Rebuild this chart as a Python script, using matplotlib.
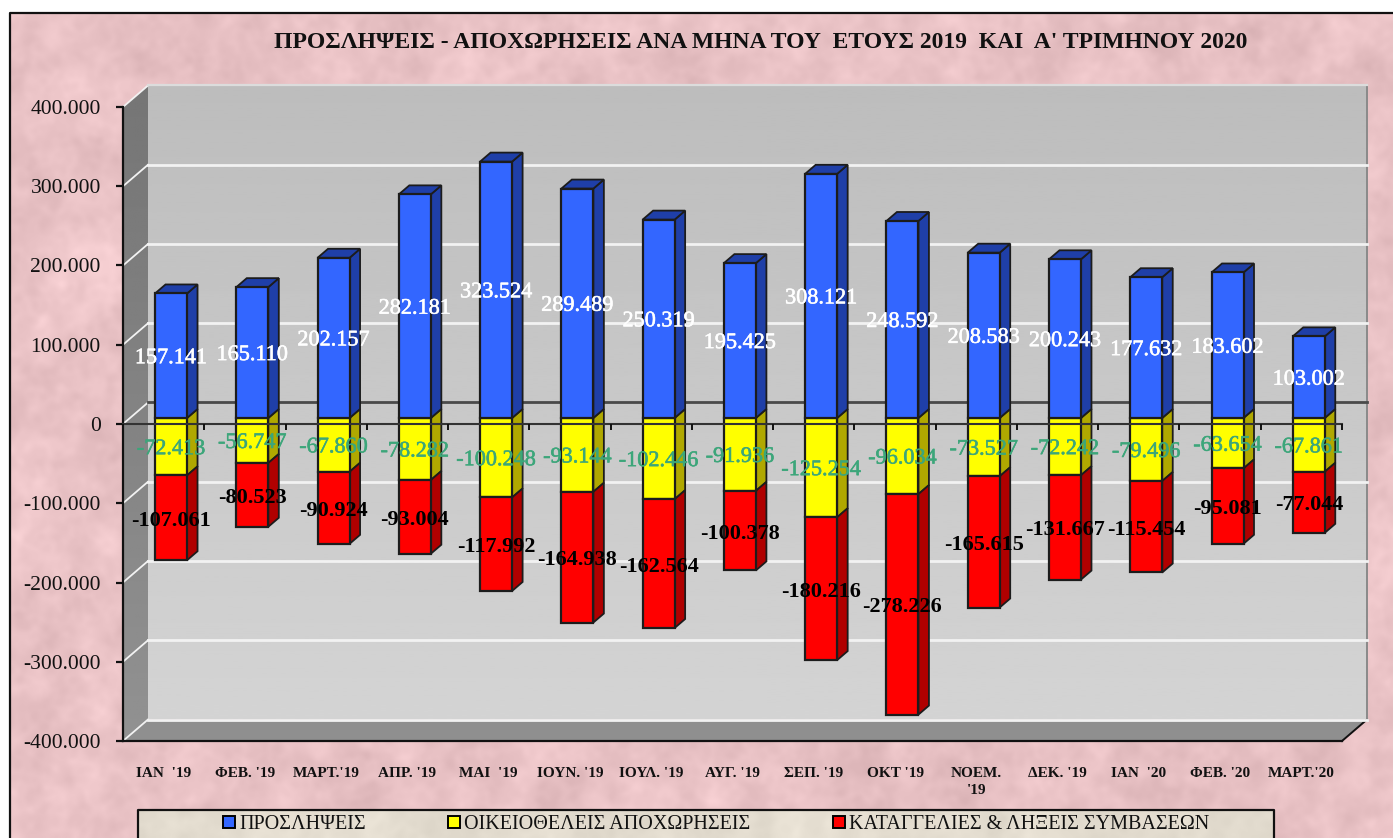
import numpy as np
import matplotlib
matplotlib.use("Agg")
import matplotlib.pyplot as plt
import matplotlib.patheffects as pe
from matplotlib.patches import Polygon, Patch

months = ["ΙΑΝ  '19", "ΦΕΒ. '19", "ΜΑΡΤ.'19", "ΑΠΡ. '19", "ΜΑΙ  '19", "ΙΟΥΝ. '19", "ΙΟΥΛ. '19", "ΑΥΓ. '19",
          "ΣΕΠ. '19", "ΟΚΤ '19", "ΝΟΕΜ.\n'19", "ΔΕΚ. '19", "ΙΑΝ  '20", "ΦΕΒ. '20", "ΜΑΡΤ.'20"]
hires = [157141, 165110, 202157, 282181, 323524, 289489, 250319, 195425, 308121, 248592, 208583, 200243, 177632, 183602, 103002]
quits = [-72413, -56747, -67860, -78282, -100248, -93144, -102446, -91936, -125254, -96034, -73527, -72242, -79496, -63654, -67861]
layoffs = [-107061, -80523, -90924, -93004, -117992, -164938, -162564, -100378, -180216, -278226, -165615, -131667, -115454, -95081, -77044]
yticks = [400000, 300000, 200000, 100000, 0, -100000, -200000, -300000, -400000]
series_names = ["ΠΡΟΣΛΗΨΕΙΣ", "ΟΙΚΕΙΟΘΕΛΕΙΣ ΑΠΟΧΩΡΗΣΕΙΣ", "ΚΑΤΑΓΓΕΛΙΕΣ & ΛΗΞΕΙΣ ΣΥΜΒΑΣΕΩΝ"]
title = "ΠΡΟΣΛΗΨΕΙΣ - ΑΠΟΧΩΡΗΣΕΙΣ ΑΝΑ ΜΗΝΑ ΤΟΥ  ΕΤΟΥΣ 2019  ΚΑΙ  Α' ΤΡΙΜΗΝΟΥ 2020"

W, H = 1393, 838
SERIF = "Liberation Serif"
plt.rcParams["font.family"] = [SERIF, "DejaVu Serif"]


def fmt(v):
    return f"{v:,}".replace(",", ".")


def marble(h, w, base, amp, seed):
    """Decorative background texture only (no chart data)."""
    rng = np.random.default_rng(seed)
    out = np.zeros((h, w))
    fy = np.fft.fftfreq(h)[:, None]
    fx = np.fft.rfftfreq(w)[None, :]
    for sigma, weight in ((22, 0.6), (8, 0.8), (3, 0.45)):
        noise = rng.standard_normal((h, w))
        f = np.fft.rfft2(noise) * np.exp(-2 * (np.pi * sigma) ** 2 * (fx ** 2 + fy ** 2))
        layer = np.fft.irfft2(f, s=(h, w))
        out += weight * layer / layer.std()
    out /= out.std()
    img = np.ones((h, w, 3)) * np.array(base)[None, None, :]
    img += (amp * out)[..., None]
    return np.clip(img, 0, 255).astype(np.uint8)


fig = plt.figure(figsize=(W / 100, H / 100), dpi=100, facecolor="white")

# page background in pixel coordinates
bg = fig.add_axes([0, 0, 1, 1], zorder=0)
bg.axis("off")
bg.imshow(marble(H - 13, W - 10, (233, 194, 197), 4.5, 3), extent=(10, W, H, 13), aspect="auto", zorder=1)
bg.set_xlim(0, W)
bg.set_ylim(H, 0)
bg.plot([10, 10, W], [H, 13, 13], color="#111111", lw=1.6, zorder=2)

# plotting axes: front plane
L, R, T, B = 123, 1342, 107, 741
ax = fig.add_axes([L / W, 1 - B / H, (R - L) / W, (B - T) / H], zorder=2)
ax.patch.set_alpha(0)
x0, x1 = -0.5, 14.5
y0, y1 = -400000, 400000
px_x = (x1 - x0) / (R - L)
px_y = (y1 - y0) / (B - T)
DX, DY = 25 * px_x, 21.5 * px_y       # wall depth
BX, BY = 7.4 * px_x, 6.0 * px_y       # bar plane offset
BDX, BDY = 10.5 * px_x, 9.0 * px_y    # bar depth
BW = 32 * px_x
LABEL_SHIFT = 3.0 * px_y

# back wall with vertical gradient
grad = np.linspace(0, 1, 256)[:, None]
ax.imshow(0.74 + grad * 0.09, cmap="gray", vmin=0, vmax=1, aspect="auto",
          extent=(x0 + DX, x1 + DX, y0 + DY, y1 + DY), origin="upper", zorder=1, clip_on=False)
side = ax.imshow(0.46 + grad * 0.11, cmap="gray", vmin=0, vmax=1, aspect="auto",
                 extent=(x0, x0 + DX, y0, y1 + DY), origin="upper", zorder=1)
side_poly = Polygon([(x0, y0), (x0 + DX, y0 + DY), (x0 + DX, y1 + DY), (x0, y1)], transform=ax.transData)
side.set_clip_box(fig.bbox)
side.set_clip_path(side_poly)
ax.add_patch(Polygon([(x0, y0), (x1, y0), (x1 + DX, y0 + DY), (x0 + DX, y0 + DY)], closed=True,
                     facecolor="#8f8f8f", edgecolor="none", zorder=1.1, clip_on=False))
ax.plot([x1, x1 + DX], [y0, y0 + DY], color="#111111", lw=1.4, zorder=1.3, clip_on=False)
ax.plot([x1 + DX, x1 + DX], [y0 + DY, y1 + DY], color="#8a8a8a", lw=1.4, zorder=1.3, clip_on=False)

# gridlines
for v in yticks:
    ax.plot([x0, x0 + DX], [v, v + DY], color="#f2f2f2", lw=1.3, zorder=1.5, clip_on=False)
    if v == y1:
        ax.plot([x0 + DX, x1 + DX], [v + DY, v + DY], color="#dcdcdc", lw=1.6, zorder=1.5, clip_on=False)
    elif v != 0:
        ax.plot([x0 + DX, x1 + DX], [v + DY, v + DY], color="#f2f2f2", lw=2.0, zorder=1.5, clip_on=False)
ax.plot([x0 + DX, x1 + DX], [DY, DY], color="#4a4a4a", lw=2.0, zorder=1.6, clip_on=False)

# bars
series = [(hires, "#3366ff", "#1f3fa8"), (quits, "#ffff00", "#b0a800"), (layoffs, "#ff0000", "#b00000")]
xs = np.arange(len(months)) + BX
quits_arr = np.array(quits)
for k in [1, 2, 0]:
    vals, col, dark = series[k]
    vals = np.array(vals)
    bottoms = np.full(len(vals), BY, dtype=float) + (quits_arr if k == 2 else 0)
    ax.bar(xs, vals, BW, bottom=bottoms, color=col, edgecolor="#1c1c1c", linewidth=1.6, zorder=3.2, clip_on=False,
           label=series_names[k])
    for x, v, b in zip(xs, vals, bottoms):
        r = x + BW / 2
        lo, hi = min(b, b + v), max(b, b + v)
        ax.add_patch(Polygon([(r, lo), (r + BDX, lo + BDY), (r + BDX, hi + BDY), (r, hi)], closed=True, facecolor=dark,
                             edgecolor="#1c1c1c", linewidth=1.3, zorder=3, clip_on=False))
        if k == 0:
            l = x - BW / 2
            ax.add_patch(Polygon([(l, hi), (l + BDX, hi + BDY), (r + BDX, hi + BDY), (r, hi)], closed=True, facecolor=dark,
                                 edgecolor="#1c1c1c", linewidth=1.3, zorder=3, clip_on=False))

# zero axis and category ticks in front of the bars
ax.plot([x0, x1], [0, 0], color="#333333", lw=1.5, zorder=4, clip_on=False)
ax.vlines(np.arange(len(months) + 1) - 0.5, -6 * px_y, 0, color="#111111", lw=1.4, zorder=4, clip_on=False)

# value labels
thick_w = [pe.withStroke(linewidth=0.4, foreground="white")]
thick_g = [pe.withStroke(linewidth=0.4, foreground="#3ca67a")]
for x, h, q, l in zip(xs, hires, quits, layoffs):
    ax.text(x, BY + h / 2 - LABEL_SHIFT, fmt(h), color="white", fontsize=16, ha="center", va="center", zorder=6,
            clip_on=False, path_effects=thick_w)
    ax.text(x, BY + q / 2 - LABEL_SHIFT, fmt(q), color="#3ca67a", fontsize=16, ha="center", va="center", zorder=6,
            clip_on=False, path_effects=thick_g)
    ax.text(x, BY + q + l / 2 - LABEL_SHIFT, fmt(l), color="black", fontsize=16, fontweight="bold", ha="center",
            va="center", zorder=6, clip_on=False)

# axes
ax.set_xlim(x0, x1)
ax.set_ylim(y0, y1)
ax.set_yticks(yticks)
ax.set_yticklabels([fmt(v) for v in yticks], fontsize=15.5, color="#111111")
ax.set_xticks(np.arange(len(months)))
ax.set_xticklabels(months, fontsize=11, fontweight="bold", color="#111111", linespacing=1.4)
ax.tick_params(axis="y", length=5, width=1.6, pad=11, color="#111111")
ax.tick_params(axis="x", length=0, pad=19)
for s in ("top", "right"):
    ax.spines[s].set_visible(False)
for s in ("left", "bottom"):
    ax.spines[s].set_linewidth(1.6)
    ax.spines[s].set_color("#111111")
    ax.spines[s].set_zorder(2)

ax.set_title(title, fontsize=17, fontweight="bold", color="#111111", x=(761 - L) / (R - L), y=(B - 42) / (B - T), va="center", pad=0)

# legend box (cut by the lower edge of the picture)
bg.imshow(marble(H - 810, 1274 - 138, (227, 220, 207), 3, 8), extent=(138, 1274, H, 810), aspect="auto", zorder=3)
bg.set_xlim(0, W)
bg.set_ylim(H, 0)
bg.plot([138, 138, 1274, 1274], [H, 810, 810, H], color="#111111", lw=1.6, zorder=4)
handles = [Patch(facecolor=c, edgecolor="black", linewidth=1.4) for c in ("#3366ff", "#ffff00", "#ff0000")]
leg = ax.legend(handles, series_names, ncol=3, frameon=False, fontsize=14.5, handlelength=0.6, handleheight=0.6,
                handletextpad=0.2, columnspacing=4.1, loc="center left",
                bbox_to_anchor=(223 / W, 1 - 824.5 / H), bbox_transform=fig.transFigure, borderpad=0, borderaxespad=0)
for t in leg.get_texts():
    t.set_color("#111111")

fig.savefig("out.png", dpi=100, facecolor="white")
